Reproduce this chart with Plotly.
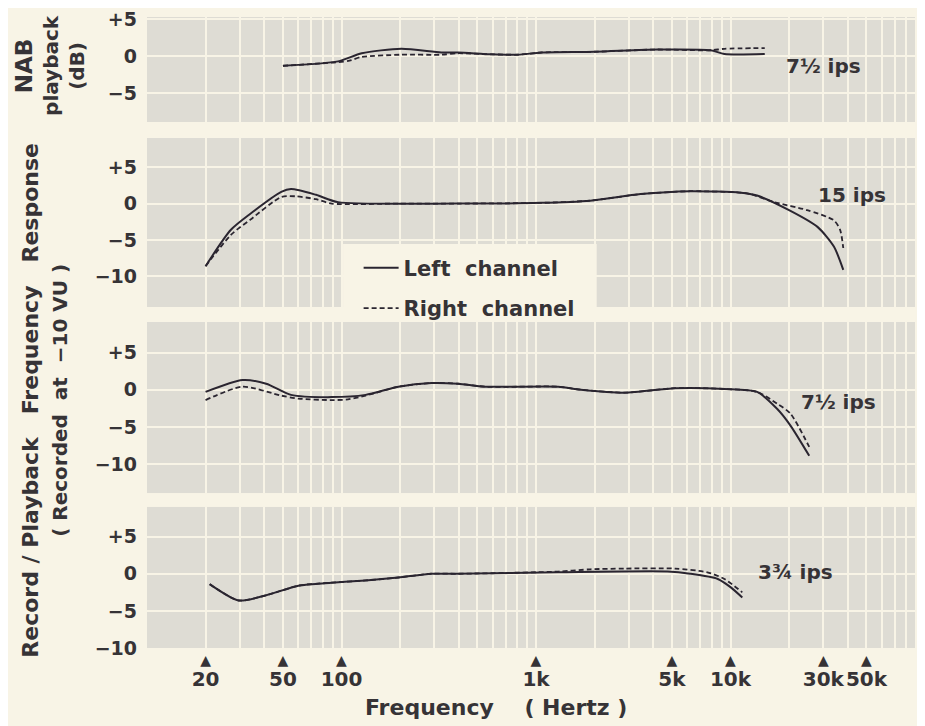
import math
import plotly.graph_objects as go
from plotly.subplots import make_subplots

PAGE = "#f8f4e6"
GRAY = "#dedcd4"
INK = "#363336"
LINE = "#2a2530"
FONT = "DejaVu Sans"

# ---------------- data ----------------
tick_freqs = [20, 50, 100, 1000, 5000, 10000, 30000, 50000]
tick_labels = ["20", "50", "100", "1k", "5k", "10k", "30k", "50k"]
grid_freqs = [m * 10 ** d for d in range(1, 5) for m in range(1, 10)] + [100000]

db_ticks = [5, 0, -5, -10]
db_labels = ["+5", "0", "\u22125", "\u221210"]

# Panel 1: NAB playback, 7 1/2 ips
nab_left_f = [50, 96, 127, 203, 326, 398, 590, 808, 1070, 2000, 4200, 7900, 9300, 15000]
nab_left_db = [-1.3, -0.7, 0.4, 1.0, 0.5, 0.5, 0.25, 0.2, 0.5, 0.6, 0.9, 0.8, 0.3, 0.3]
nab_right_f = [50, 96, 110, 127, 203, 326, 398, 590, 808, 1070, 2000, 4200, 7900, 9300, 15000]
nab_right_db = [-1.3, -0.8, -0.6, -0.1, 0.2, 0.2, 0.4, 0.25, 0.2, 0.5, 0.6, 0.9, 0.8, 1.0, 1.1]

# Panel 2: record/playback 15 ips
r15_left_f = [20, 27, 34, 49, 55, 74, 96, 398, 1060, 1900, 3450, 6200, 11300, 13700, 20000, 28000, 34000, 38000]
r15_left_db = [-8.6, -3.6, -1.4, 1.6, 2.0, 1.2, 0.2, 0.0, 0.1, 0.4, 1.3, 1.7, 1.5, 1.1, -0.9, -3.2, -5.9, -9.1]
r15_right_f = [20, 27, 34, 49, 58, 74, 89, 200, 398, 1060, 1900, 3450, 6200, 11300, 12700, 16800, 24800, 34000, 36600, 38000]
r15_right_db = [-8.6, -4.3, -2.2, 0.9, 1.0, 0.6, 0.0, 0.0, 0.0, 0.1, 0.4, 1.3, 1.7, 1.5, 1.3, 0.2, -0.9, -2.3, -3.6, -6.1]

# Panel 3: record/playback 7 1/2 ips
r75_left_f = [20, 31, 41, 55, 89, 133, 196, 290, 398, 548, 1300, 1700, 2860, 5200, 9300, 13700, 17400, 20300, 25400]
r75_left_db = [-0.3, 1.3, 0.8, -0.7, -1.0, -0.7, 0.4, 0.9, 0.8, 0.4, 0.4, 0.0, -0.4, 0.2, 0.1, -0.3, -2.6, -4.8, -8.9]
r75_right_f = [20, 31, 49, 60, 89, 108, 133, 196, 290, 398, 548, 1300, 1700, 2860, 5200, 9300, 13700, 17400, 20300, 25400]
r75_right_db = [-1.4, 0.4, -0.8, -1.2, -1.4, -1.3, -0.8, 0.4, 0.9, 0.8, 0.4, 0.4, 0.0, -0.4, 0.2, 0.1, -0.3, -1.9, -3.2, -7.7]

# Panel 4: record/playback 3 3/4 ips
r375_left_f = [21, 29.6, 41, 60, 89, 133, 196, 290, 398, 1300, 4750, 6200, 8600, 10000, 11500]
r375_left_db = [-1.4, -3.6, -2.9, -1.6, -1.2, -0.9, -0.5, 0.0, 0.0, 0.2, 0.3, 0.0, -0.7, -1.8, -3.2]
r375_right_f = [21, 29.6, 41, 60, 89, 133, 196, 290, 398, 1300, 1900, 2860, 5200, 7600, 9300, 11500]
r375_right_db = [-1.4, -3.6, -2.9, -1.6, -1.2, -0.9, -0.5, 0.0, 0.0, 0.3, 0.6, 0.7, 0.7, 0.2, -0.7, -2.5]

panel_labels = ["7\u00bd ips", "15 ips", "7\u00bd ips", "3\u00be ips"]
label_pos_f = [30000, 42000, 36000, 21500]
label_pos_db = [-1.3, 1.2, -1.7, 0.25]

# ---------------- layout geometry ----------------
y_domains = [[0.8336, 1.0], [0.5404, 0.8082], [0.2456, 0.5166], [0.0, 0.2235]]
y_ranges = [[-8.9, 5.3], [-14.2, 9.0], [-13.9, 9.1], [-10.0, 9.0]]

panels = [
    (nab_left_f, nab_left_db, nab_right_f, nab_right_db),
    (r15_left_f, r15_left_db, r15_right_f, r15_right_db),
    (r75_left_f, r75_left_db, r75_right_f, r75_right_db),
    (r375_left_f, r375_left_db, r375_right_f, r375_right_db),
]

fig = make_subplots(rows=4, cols=1, shared_xaxes=True, vertical_spacing=0.02)

for i, (lf, ld, rf, rd) in enumerate(panels):
    row = i + 1
    show = (row == 2)
    fig.add_trace(go.Scatter(
        x=lf, y=ld, mode="lines", name="Left  channel",
        line=dict(color=LINE, width=2, shape="spline", smoothing=0.7),
        showlegend=show, legendgroup="L", hoverinfo="skip"), row=row, col=1)
    fig.add_trace(go.Scatter(
        x=rf, y=rd, mode="lines", name="Right  channel",
        line=dict(color=LINE, width=1.8, dash="5px,3px", shape="spline", smoothing=0.7),
        showlegend=show, legendgroup="R", hoverinfo="skip"), row=row, col=1)

tick_text = ["<span style='font-size:14px'>\u25b2</span><br>"
             "<span style='font-size:20px'>" + t + "</span>" for t in tick_labels]

for i in range(4):
    row = i + 1
    fig.update_xaxes(
        type="log", range=[1, 5],
        tickmode="array", tickvals=tick_freqs, ticktext=tick_text,
        showticklabels=(row == 4), tickangle=0,
        tickfont=dict(family=FONT, size=16, color=INK, weight="bold"),
        ticks="", showgrid=True, gridcolor=PAGE, gridwidth=1.5,
        minor=dict(tickmode="array", tickvals=grid_freqs, showgrid=True,
                   gridcolor=PAGE, gridwidth=1.5, ticks=""),
        showline=False, zeroline=False,
        row=row, col=1)
    fig.update_yaxes(
        range=y_ranges[i], domain=y_domains[i],
        tickmode="array",
        tickvals=db_ticks if row != 1 else db_ticks[:3],
        ticktext=db_labels if row != 1 else db_labels[:3],
        tickfont=dict(family=FONT, size=19, color=INK, weight="bold"),
        ticks="", ticklabelstandoff=9, ticklabeloverflow="allow",
        showgrid=True, gridcolor=PAGE, gridwidth=1.5, zeroline=False,
        showline=False,
        row=row, col=1)

annotations = []
for i in range(4):
    xr = "x" if i == 0 else "x%d" % (i + 1)
    yr = "y" if i == 0 else "y%d" % (i + 1)
    annotations.append(dict(
        x=math.log10(label_pos_f[i]), y=label_pos_db[i], xref=xr, yref=yr,
        text=panel_labels[i], showarrow=False,
        font=dict(family=FONT, size=20, color=INK, weight="bold"),
        xanchor="center", yanchor="middle"))

annotations.append(dict(
    x=-0.1247, y=0.924, xref="paper", yref="paper",
    text="<span style='font-size:23px'>NAB</span><br>playback<br>(dB)",
    textangle=-90, showarrow=False, align="center",
    font=dict(family=FONT, size=20, color=INK, weight="bold"),
    xanchor="center", yanchor="middle"))

annotations.append(dict(
    x=-0.1311, y=0.392, xref="paper", yref="paper",
    text="Record / Playback   Frequency   Response<br>"
         "<span style='font-size:20px'>( Recorded  at  \u221210 VU )</span>",
    textangle=-90, showarrow=False, align="center",
    font=dict(family=FONT, size=22, color=INK, weight="bold"),
    xanchor="center", yanchor="middle"))

annotations.append(dict(
    x=0.449, y=-0.095, xref="paper", yref="paper",
    text="Frequency    ( Hertz )", showarrow=False,
    font=dict(family=FONT, size=22, color=INK, weight="bold"),
    xanchor="center", yanchor="middle"))

fig.update_layout(
    width=917, height=718,
    margin=dict(l=139, r=0, t=9, b=78),
    paper_bgcolor=PAGE, plot_bgcolor=GRAY,
    font=dict(family=FONT, color=INK),
    showlegend=True,
    legend=dict(x=0.272, y=0.6345, xanchor="left", yanchor="top",
                bgcolor="rgba(0,0,0,0)", borderwidth=0,
                font=dict(family=FONT, size=21, color=INK, weight="bold"),
                tracegroupgap=10, traceorder="grouped", itemwidth=35),
    shapes=[dict(type="rect", xref="paper", yref="paper",
                 x0=0.252, x1=0.578, y0=0.5404, y1=0.6403,
                 fillcolor=PAGE, line=dict(width=0), layer="above")],
    annotations=annotations,
)

fig.write_html("out.html")
